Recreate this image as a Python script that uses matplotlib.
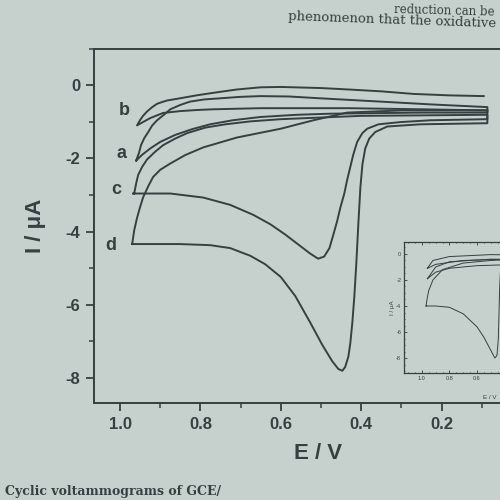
import numpy as np
import matplotlib.pyplot as plt
from matplotlib.ticker import MultipleLocator

# --- main voltammograms (E / V, I / uA) ---
# curve b
b_E_low = [0.958, 0.94, 0.925, 0.893, 0.851, 0.81, 0.768, 0.651, 0.43, 0.25, 0.086]
b_I_low = [-1.10, -0.99, -0.90, -0.76, -0.71, -0.68, -0.66, -0.63, -0.63, -0.66, -0.69]
b_E_up = [0.958, 0.95, 0.943, 0.933, 0.92, 0.908, 0.895, 0.883, 0.851, 0.81, 0.768,
          0.71, 0.651, 0.60, 0.50, 0.43, 0.35, 0.27, 0.18, 0.095]
b_I_up = [-1.10, -0.95, -0.84, -0.72, -0.60, -0.51, -0.46, -0.42, -0.36, -0.28, -0.21,
          -0.12, -0.06, -0.05, -0.08, -0.12, -0.17, -0.24, -0.28, -0.30]

# curve a
a_E_low = [0.96, 0.945, 0.925, 0.90, 0.863, 0.82, 0.776, 0.72, 0.651, 0.56, 0.477, 0.253, 0.086]
a_I_low = [-2.06, -1.90, -1.73, -1.55, -1.36, -1.20, -1.07, -0.96, -0.87, -0.81, -0.78, -0.75, -0.75]
a_E_up = [0.96, 0.953, 0.948, 0.94, 0.93, 0.92, 0.908, 0.89, 0.875, 0.85, 0.826, 0.79,
          0.751, 0.70, 0.651, 0.58, 0.502, 0.352, 0.22, 0.086]
a_I_up = [-2.06, -1.85, -1.64, -1.45, -1.28, -1.10, -0.96, -0.80, -0.66, -0.54, -0.45, -0.39,
          -0.36, -0.32, -0.30, -0.31, -0.36, -0.45, -0.53, -0.60]

# curve c
c_E_low = [0.968, 0.875, 0.793, 0.726, 0.669, 0.626, 0.589, 0.552, 0.527, 0.507, 0.492,
           0.479, 0.47, 0.46, 0.452, 0.442, 0.435, 0.427, 0.42, 0.41, 0.397, 0.385,
           0.357, 0.303, 0.228, 0.086]
c_I_low = [-2.96, -2.96, -3.07, -3.27, -3.54, -3.80, -4.08, -4.39, -4.60, -4.74, -4.68,
           -4.45, -4.11, -3.72, -3.35, -2.96, -2.59, -2.23, -1.91, -1.55, -1.31, -1.19,
           -1.07, -1.01, -0.96, -0.93]
c_E_up = [0.965, 0.960, 0.955, 0.945, 0.933, 0.913, 0.893, 0.863, 0.833, 0.788, 0.738,
          0.676, 0.60, 0.402, 0.086]
c_I_up = [-2.96, -2.68, -2.45, -2.23, -2.03, -1.82, -1.64, -1.46, -1.31, -1.16, -1.07,
          -0.99, -0.93, -0.84, -0.81]

# curve d
d_E_low = [0.970, 0.851, 0.776, 0.726, 0.676, 0.639, 0.60, 0.564, 0.527, 0.497, 0.472,
           0.457, 0.447, 0.440, 0.432, 0.427, 0.422, 0.417, 0.412, 0.407, 0.402, 0.397,
           0.390, 0.380, 0.365, 0.335, 0.253, 0.086]
d_I_low = [-4.34, -4.34, -4.37, -4.45, -4.66, -4.89, -5.24, -5.76, -6.48, -7.09, -7.54,
           -7.75, -7.80, -7.70, -7.42, -7.04, -6.48, -5.76, -4.84, -3.77, -2.79, -2.17,
           -1.73, -1.46, -1.28, -1.13, -1.07, -1.04]
d_E_up = [0.970, 0.965, 0.958, 0.95, 0.943, 0.930, 0.918, 0.900, 0.875, 0.838, 0.793,
          0.709, 0.60, 0.519, 0.435, 0.30, 0.086]
d_I_up = [-4.34, -3.97, -3.63, -3.32, -3.07, -2.76, -2.51, -2.31, -2.14, -1.91, -1.70,
          -1.43, -1.19, -0.96, -0.75, -0.69, -0.69]

labels = ['a', 'b', 'c', 'd']
label_E = [0.985, 0.975, 0.998, 1.01]
label_I = [-1.88, -0.69, -2.85, -4.37]

main_xticks = [1.0, 0.8, 0.6, 0.4, 0.2]
main_yticks = [0, -2, -4, -6, -8]

# --- inset voltammograms ---
in_big_E_low = [0.97, 0.9, 0.8, 0.7, 0.6, 0.55, 0.5, 0.47, 0.455, 0.445, 0.44, 0.435, 0.43, 0.41, 0.3, 0.1]
in_big_I_low = [-4.0, -4.0, -4.1, -4.6, -5.6, -6.4, -7.4, -8.0, -7.8, -6.5, -4.5, -2.5, -1.4, -1.0, -0.9, -0.8]
in_big_E_up = [0.97, 0.96, 0.95, 0.92, 0.85, 0.7, 0.5, 0.3, 0.1]
in_big_I_up = [-4.0, -3.3, -2.8, -2.0, -1.2, -0.7, -0.5, -0.4, -0.4]
in_s1_E_low = [0.96, 0.9, 0.7, 0.4, 0.1]
in_s1_I_low = [-1.1, -0.8, -0.5, -0.4, -0.4]
in_s1_E_up = [0.96, 0.92, 0.8, 0.5, 0.1]
in_s1_I_up = [-1.1, -0.5, -0.2, -0.05, -0.1]
in_s2_E_low = [0.96, 0.9, 0.8, 0.6, 0.3, 0.1]
in_s2_I_low = [-1.9, -1.4, -1.1, -0.9, -0.8, -0.8]
in_s2_E_up = [0.96, 0.9, 0.8, 0.5, 0.1]
in_s2_I_up = [-1.9, -1.0, -0.6, -0.4, -0.5]

inset_xticks = [1.0, 0.8, 0.6]
inset_yticks = [0, -2, -4, -6, -8]

paper = '#c6d1cd'
ink = '#354041'
plt.rcParams['font.family'] = ['Liberation Sans', 'DejaVu Sans']

fig = plt.figure(figsize=(5, 5), dpi=100, facecolor=paper)
ax = fig.add_axes([0.188, 0.194, 0.896, 0.709])
ax.set_facecolor(paper)


def loop(ax, E_low, I_low, E_up, I_up, lw):
    E = list(E_low) + list(E_up[::-1])
    I = list(I_low) + list(I_up[::-1])
    ax.plot(E, I, color=ink, lw=lw, solid_joinstyle='round')


loop(ax, a_E_low, a_I_low, a_E_up, a_I_up, 1.4)
loop(ax, c_E_low, c_I_low, c_E_up, c_I_up, 1.4)
loop(ax, d_E_low, d_I_low, d_E_up, d_I_up, 1.4)
# b is left open at the positive end
ax.plot(b_E_up[::-1] + b_E_low[1:], b_I_up[::-1] + b_I_low[1:], color=ink, lw=1.4)

for s, e, i in zip(labels, label_E, label_I):
    ax.text(e, i, s, ha='right', va='center', fontsize=13, fontweight='bold', color=ink)

ax.set_xlim(1.065, -0.05)
ax.set_ylim(-8.68, 1.0)
ax.set_xticks(main_xticks)
ax.set_xticklabels([f'{v:.1f}' for v in main_xticks])
ax.xaxis.set_minor_locator(MultipleLocator(0.1))
ax.set_yticks(main_yticks)
ax.set_yticklabels([str(v) for v in main_yticks])
ax.yaxis.set_minor_locator(MultipleLocator(1))
ax.tick_params(which='major', direction='out', length=6, width=1.3, colors=ink,
               labelsize=12, pad=4)
ax.tick_params(which='minor', direction='out', length=3.5, width=1.1, colors=ink)
for lab in ax.get_xticklabels() + ax.get_yticklabels():
    lab.set_fontweight('bold')
for sp in ax.spines.values():
    sp.set_color(ink)
    sp.set_linewidth(1.4)
ax.set_xlabel('E / V', fontsize=16, fontweight='bold', color=ink, labelpad=8)
ax.set_ylabel('I / μA', fontsize=16, fontweight='bold', color=ink, labelpad=14)

# inset
ins = fig.add_axes([0.808, 0.254, 0.325, 0.262])
ins.set_facecolor(paper)
loop(ins, in_big_E_low, in_big_I_low, in_big_E_up, in_big_I_up, 0.7)
loop(ins, in_s1_E_low, in_s1_I_low, in_s1_E_up, in_s1_I_up, 0.7)
loop(ins, in_s2_E_low, in_s2_I_low, in_s2_E_up, in_s2_I_up, 0.7)
ins.set_xlim(1.13, -0.05)
ins.set_ylim(-9.15, 0.92)
ins.set_xticks(inset_xticks)
ins.set_xticklabels([f'{v:.1f}' for v in inset_xticks])
ins.xaxis.set_minor_locator(MultipleLocator(0.05))
ins.set_yticks(inset_yticks)
ins.set_yticklabels([str(v) for v in inset_yticks])
ins.yaxis.set_minor_locator(MultipleLocator(0.5))
ins.tick_params(which='both', direction='in', top=True, right=True, colors=ink,
                labelsize=4, pad=2, length=2, width=0.6)
ins.tick_params(which='minor', length=1)
for sp in ins.spines.values():
    sp.set_color(ink)
    sp.set_linewidth(0.9)
ins.set_xlabel('E / V', fontsize=4.5, color=ink)
ins.xaxis.set_label_coords(0.53, -0.17)
ins.set_ylabel('I / μA', fontsize=4.5, color=ink, labelpad=1)

# surrounding page text
fig.text(0.99, 0.978, 'reduction can be', fontsize=8.5, family='DejaVu Serif',
         color=ink, ha='right', va='center', rotation=-1.5)
fig.text(0.575, 0.945, 'phenomenon that the oxidative', fontsize=9.5,
         family='DejaVu Serif', color=ink, ha='left', va='baseline', rotation=-2)
fig.text(0.01, 0.004, 'Cyclic voltammograms of GCE/', fontsize=9, fontweight='bold',
         family='DejaVu Serif', color=ink, ha='left', va='bottom')

fig.savefig('out.png', dpi=100, facecolor=paper)
